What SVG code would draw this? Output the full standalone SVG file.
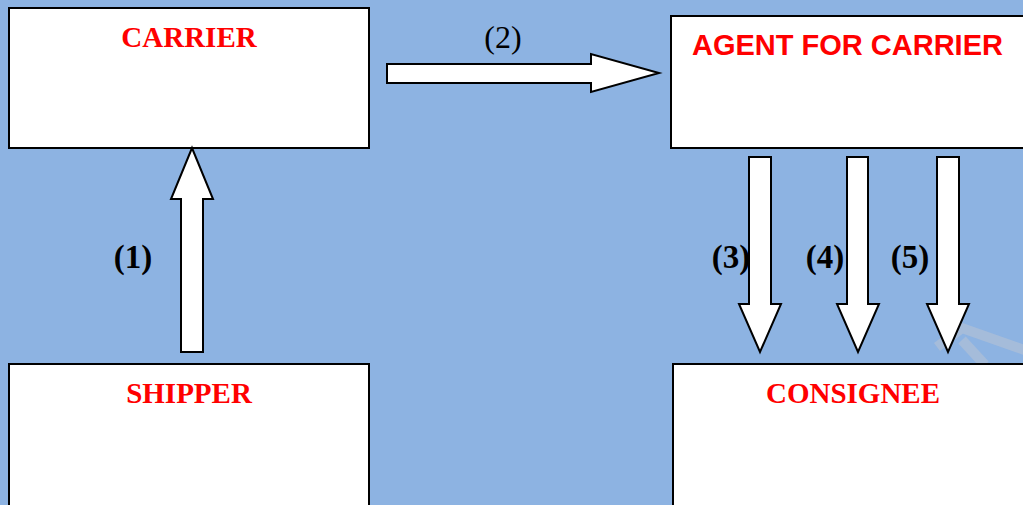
<svg xmlns="http://www.w3.org/2000/svg" width="1023" height="505" viewBox="0 0 1023 505">
<style>
.box{fill:#ffffff;stroke:#000000;stroke-width:2}
.arr{fill:#ffffff;stroke:#000000;stroke-width:2;stroke-linejoin:miter}
.ser{font-family:"Liberation Serif","Times New Roman",serif;font-weight:bold;fill:#ff0000;font-size:29px;text-anchor:middle}
.sans{font-family:"Liberation Sans",Arial,sans-serif;font-weight:bold;fill:#ff0000;font-size:29px}
.lbl{font-family:"Liberation Serif","Times New Roman",serif;font-weight:bold;fill:#000000;font-size:33px;text-anchor:middle}
.lbl2{font-family:"Liberation Serif","Times New Roman",serif;fill:#000000;font-size:32px;text-anchor:middle}
.streak{fill:none;stroke:#a9bdd8;stroke-width:10;stroke-opacity:0.85}
</style>
<rect x="0" y="0" width="1023" height="505" fill="#8db3e2"/>
<g id="decor">
<path class="streak" d="M937,347 L962,328 L1030,352"/>
<path class="streak" d="M962,340 L985,365"/>
</g>
<g id="carrier">
<rect class="box" x="9" y="8" width="360" height="140"/>
<text class="ser" x="189" y="47">CARRIER</text>
</g>
<g id="agent">
<rect class="box" x="671" y="16" width="400" height="132"/>
<text class="sans" x="692" y="55">AGENT FOR CARRIER</text>
</g>
<g id="shipper">
<rect class="box" x="9" y="364" width="360" height="160"/>
<text class="ser" x="189" y="403">SHIPPER</text>
</g>
<g id="consignee">
<rect class="box" x="673" y="364" width="400" height="160"/>
<text class="ser" x="853" y="403">CONSIGNEE</text>
</g>
<g id="connectors">
<polygon class="arr" points="181,352 181,199 171,199 192,148 213,199 203,199 203,352"/>
<polygon class="arr" points="387,64 591,64 591,54 659,73 591,92 591,83 387,83"/>
<polygon class="arr" points="749,157 771,157 771,304 781,304 760,352 739,304 749,304"/>
<polygon class="arr" points="847,157 868,157 868,304 879,304 858,352 837,304 847,304"/>
<polygon class="arr" points="937,157 959,157 959,304 969,304 948,352 927,304 937,304"/>
<text class="lbl" x="133" y="268">(1)</text>
<text class="lbl2" x="503" y="48">(2)</text>
<text class="lbl" x="731" y="268">(3)</text>
<text class="lbl" x="825" y="268">(4)</text>
<text class="lbl" x="910" y="268">(5)</text>
</g>
</svg>
